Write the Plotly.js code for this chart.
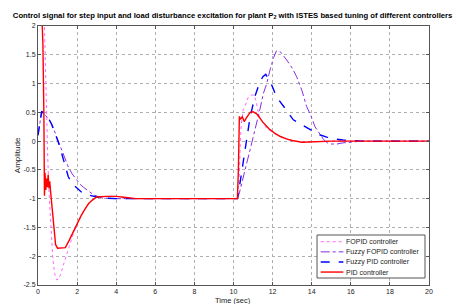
<!DOCTYPE html>
<html><head><meta charset="utf-8">
<script src="https://cdn.plot.ly/plotly-3.0.1.min.js"></script>
<style>html,body{margin:0;padding:0;background:#fff}#chart{width:457px;height:304px}</style>
</head><body><div id="chart"></div>
<script>
// FOPID controller (pink dotted)
const tFOPID = [0, 0.25, 0.3, 0.35, 0.4, 0.45, 0.5, 0.55, 0.65, 0.75, 0.85, 0.95, 1.05, 1.15, 1.3, 1.45, 1.6, 1.8, 2.0, 2.2, 2.4, 2.6, 2.8, 3.0, 3.5, 4.0, 4.5, 5.0, 10.2, 10.3, 10.35, 10.4, 10.5, 10.6, 10.75, 10.9, 11.05, 11.15, 11.3, 11.5, 11.7, 11.9, 12.1, 12.4, 12.7, 13.0, 13.5, 14, 15, 20];
const yFOPID = [5, 4, 2.4, 1.6, 0.9, 0.3, -0.3, -0.8, -1.5, -2.0, -2.3, -2.41, -2.4, -2.32, -2.15, -1.97, -1.83, -1.62, -1.44, -1.3, -1.18, -1.08, -1.02, -0.98, -0.96, -0.96, -0.98, -1.0, -1.0, -0.6, 0.0, 0.3, 0.55, 0.62, 0.76, 0.8, 0.8, 0.7, 0.45, 0.32, 0.22, 0.17, 0.13, 0.08, 0.04, 0.01, -0.02, -0.01, 0, 0];
// Fuzzy FOPID controller (purple dash-dot)
const tFuzzyFOPID = [0, 0.1, 0.19, 0.3, 0.53, 0.7, 0.87, 1.04, 1.2, 1.35, 1.55, 1.75, 1.98, 2.15, 2.32, 2.55, 2.83, 3.05, 3.3, 4.0, 5.0, 10.2, 10.3, 10.5, 10.7, 10.85, 11.0, 11.19, 11.35, 11.53, 11.7, 11.87, 12.05, 12.2, 12.4, 12.72, 13.0, 13.23, 13.5, 13.74, 13.95, 14.17, 14.4, 14.6, 14.8, 15.0, 15.3, 15.6, 16.0, 16.5, 20];
const yFuzzyFOPID = [0.1, 0.35, 0.52, 0.47, 0.4, 0.3, 0.15, 0.0, -0.17, -0.3, -0.45, -0.57, -0.68, -0.75, -0.8, -0.86, -0.93, -0.96, -0.99, -1.0, -1.0, -1.0, -0.9, -0.6, -0.35, -0.15, 0.05, 0.3, 0.55, 0.83, 1.0, 1.24, 1.45, 1.57, 1.55, 1.41, 1.27, 1.12, 0.88, 0.6, 0.45, 0.25, 0.12, 0.03, -0.03, -0.05, -0.05, -0.03, -0.02, 0, 0];
// Fuzzy PID controller (blue dashed)
const tFuzzyPID = [0, 0.1, 0.19, 0.3, 0.53, 0.7, 0.87, 1.04, 1.2, 1.3, 1.45, 1.55, 1.75, 1.98, 2.2, 2.49, 2.8, 3.0, 3.5, 4.0, 5.0, 10.2, 10.3, 10.45, 10.6, 10.85, 11.1, 11.3, 11.5, 11.65, 11.9, 12.2, 12.7, 13.06, 13.4, 13.74, 14.08, 14.4, 14.77, 15.1, 15.6, 16.5, 20];
const yFuzzyPID = [0.1, 0.35, 0.52, 0.47, 0.4, 0.29, 0.14, -0.02, -0.2, -0.33, -0.52, -0.62, -0.74, -0.82, -0.88, -0.93, -0.96, -0.97, -0.99, -1.0, -1.0, -1.0, -0.8, -0.45, -0.1, 0.42, 0.78, 0.98, 1.12, 1.16, 1.02, 0.77, 0.54, 0.37, 0.3, 0.24, 0.18, 0.11, 0.07, 0.04, 0.02, 0.0, 0];
// PID controller (red solid)
const tPID = [0, 0.1, 0.2, 0.25, 0.3, 0.33, 0.36, 0.4, 0.44, 0.48, 0.52, 0.56, 0.6, 0.65, 0.7, 0.8, 0.9, 1.0, 1.2, 1.4, 1.6, 1.8, 2.0, 2.2, 2.4, 2.6, 2.8, 3.0, 3.5, 4.0, 4.5, 5.0, 10.2, 10.25, 10.3, 10.35, 10.45, 10.55, 10.65, 10.75, 10.85, 11.0, 11.2, 11.5, 11.8, 12.1, 12.4, 12.7, 13.0, 13.5, 14.0, 15.0, 20];
const yPID = [4, 3, 2.2, 1.7, 0.5, -0.95, -0.55, -0.85, -0.65, -0.8, -0.58, -0.82, -0.7, -0.9, -1.1, -1.5, -1.8, -1.86, -1.86, -1.85, -1.72, -1.58, -1.42, -1.3, -1.18, -1.08, -1.02, -0.97, -0.96, -0.96, -0.98, -1.0, -1.0, -0.5, 0.43, 0.38, 0.42, 0.34, 0.4, 0.45, 0.5, 0.51, 0.47, 0.33, 0.22, 0.14, 0.08, 0.04, 0.01, -0.02, -0.01, 0, 0];

const seriesNames = ['FOPID controller', 'Fuzzy FOPID controller', 'Fuzzy PID controller', 'PID controller'];
const xTicks = [0, 2, 4, 6, 8, 10, 12, 14, 16, 18, 20];
const yTicks = [-2.5, -2, -1.5, -1, -0.5, 0, 0.5, 1, 1.5, 2];

const FONT = '"Liberation Sans", Arial, sans-serif';
const styles = [
  {color: '#ff66ff', width: 1, dash: 'dot'},
  {color: '#8a2be2', width: 1, dash: 'dashdot'},
  {color: '#0000ff', width: 1.4, dash: 'dash'},
  {color: '#ff0000', width: 1.4, dash: 'solid'}
];
const xs = [tFOPID, tFuzzyFOPID, tFuzzyPID, tPID];
const ys = [yFOPID, yFuzzyFOPID, yFuzzyPID, yPID];
const traces = seriesNames.map((n, i) => ({x: xs[i], y: ys[i], name: n, mode: 'lines', line: styles[i], showlegend: false}));

const axisCommon = {
  showline: true, linecolor: '#555', linewidth: 1, mirror: 'ticks',
  ticks: 'inside', ticklen: 3, tickcolor: '#555',
  showgrid: true, gridcolor: '#b0b0b0', griddash: 'dot', gridwidth: 1,
  zeroline: false, tickfont: {family: FONT, size: 7, color: '#222'}, automargin: false
};

// custom legend box (paper coordinates)
const lg = {x0: 0.7136, x1: 0.9898, y0: 0.027, y1: 0.193, rows: [0.167, 0.128, 0.089, 0.050], sx0: 0.723, sx1: 0.781, tx: 0.783};
const shapes = [{type: 'rect', xref: 'paper', yref: 'paper', x0: lg.x0, x1: lg.x1, y0: lg.y0, y1: lg.y1,
                 line: {color: '#555', width: 1}, fillcolor: '#fff', layer: 'above'}];
const annotations = [];
seriesNames.forEach((n, i) => {
  shapes.push({type: 'line', xref: 'paper', yref: 'paper', x0: lg.sx0, x1: lg.sx1, y0: lg.rows[i], y1: lg.rows[i],
               line: {color: styles[i].color, width: styles[i].width, dash: styles[i].dash}, layer: 'above'});
  annotations.push({xref: 'paper', yref: 'paper', x: lg.tx, y: lg.rows[i], xanchor: 'left', yanchor: 'middle',
                    text: n, showarrow: false, font: {family: FONT, size: 7, color: '#222'}});
});
annotations.push({xref: 'paper', yref: 'paper', x: 0.498, y: -0.058, yanchor: 'middle', xanchor: 'center', text: 'Time (sec)',
                  showarrow: false, borderpad: 0, font: {family: FONT, size: 7.5, color: '#222'}});
annotations.push({xref: 'paper', yref: 'paper', x: -0.052, y: 0.5, xanchor: 'center', yanchor: 'middle', textangle: -90, text: 'Amplitude',
                  showarrow: false, font: {family: FONT, size: 8, color: '#222'}});

const layout = {
  width: 457, height: 304,
  margin: {l: 38, r: 28, t: 26, b: 19},
  paper_bgcolor: '#fff', plot_bgcolor: '#fff',
  title: {text: 'Control signal for step input and load disturbance excitation for plant P<sub>2</sub> with ISTES based tuning of different controllers',
          font: {family: FONT, size: 7.7, color: '#000', weight: 'bold'}, xref: 'container', x: 0.509, xanchor: 'center', yref: 'container', y: 0.951, yanchor: 'middle'},
  xaxis: Object.assign({}, axisCommon, {range: [0, 20], tickvals: xTicks, ticktext: xTicks.map(String)}),
  yaxis: Object.assign({}, axisCommon, {range: [-2.5, 2], tickvals: yTicks, ticktext: yTicks.map(String)}),
  showlegend: false,
  shapes: shapes,
  annotations: annotations
};
Plotly.newPlot('chart', traces, layout, {staticPlot: true, displayModeBar: false});
</script></body></html>
